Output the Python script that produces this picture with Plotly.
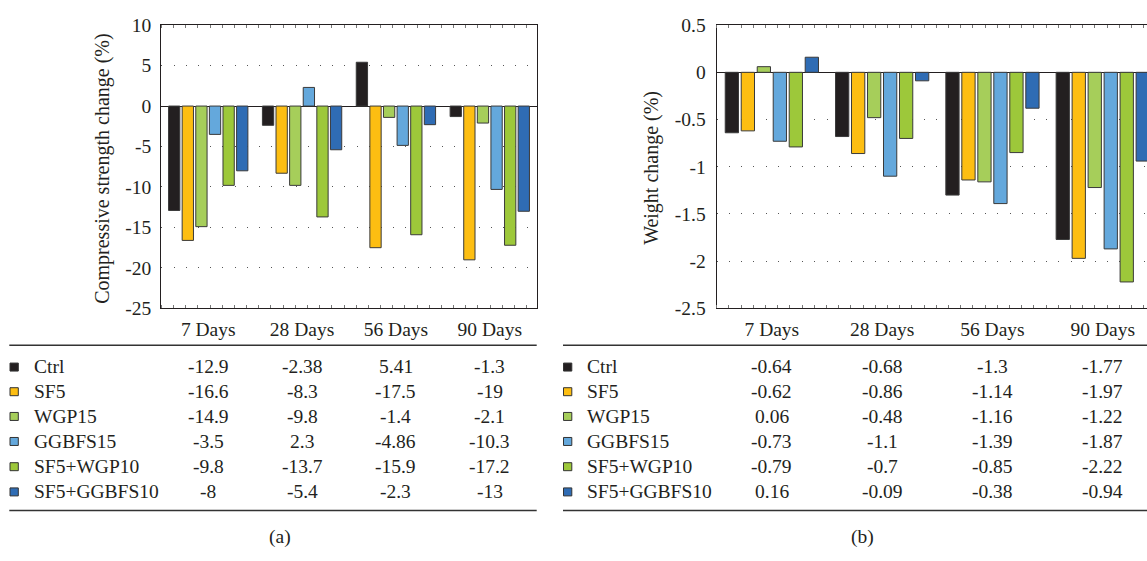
import plotly.graph_objects as go

# ---------------- data ----------------
categories = ["7 Days", "28 Days", "56 Days", "90 Days"]
series_names = ["Ctrl", "SF5", "WGP15", "GGBFS15", "SF5+WGP10", "SF5+GGBFS10"]
series_colors = ["#231F20", "#FDBE12", "#A6CE5A", "#64A8DC", "#9DC83A", "#2F6CB4"]

# (a) compressive strength change (%)
strength_ctrl = [-12.9, -2.38, 5.41, -1.3]
strength_sf5 = [-16.6, -8.3, -17.5, -19]
strength_wgp15 = [-14.9, -9.8, -1.4, -2.1]
strength_ggbfs15 = [-3.5, 2.3, -4.86, -10.3]
strength_sf5_wgp10 = [-9.8, -13.7, -15.9, -17.2]
strength_sf5_ggbfs10 = [-8, -5.4, -2.3, -13]

# (b) weight change (%)
weight_ctrl = [-0.64, -0.68, -1.3, -1.77]
weight_sf5 = [-0.62, -0.86, -1.14, -1.97]
weight_wgp15 = [0.06, -0.48, -1.16, -1.22]
weight_ggbfs15 = [-0.73, -1.1, -1.39, -1.87]
weight_sf5_wgp10 = [-0.79, -0.7, -0.85, -2.22]
weight_sf5_ggbfs10 = [0.16, -0.09, -0.38, -0.94]

strength_ticks = [10, 5, 0, -5, -10, -15, -20, -25]
strength_ticktext = ["10", "5", "0", "-5", "-10", "-15", "-20", "-25"]
weight_ticks = [0.5, 0, -0.5, -1, -1.5, -2, -2.5]
weight_ticktext = ["0.5", "0", "-0.5", "-1", "-1.5", "-2", "-2.5"]

strength_series = [strength_ctrl, strength_sf5, strength_wgp15,
                   strength_ggbfs15, strength_sf5_wgp10, strength_sf5_ggbfs10]
weight_series = [weight_ctrl, weight_sf5, weight_wgp15,
                 weight_ggbfs15, weight_sf5_wgp10, weight_sf5_ggbfs10]

# ---------------- layout helpers ----------------
W, H = 1147, 561
FONT = "Liberation Serif"
TXT = "#231F20"
FS = 19.5


def px(x):
    return x / W


def py(y):
    return 1 - y / H


xs = list(range(len(categories)))

fig = go.Figure()
for name, color, vals in zip(series_names, series_colors, strength_series):
    fig.add_trace(go.Bar(x=xs, y=vals, name=name, marker_color=color,
                         marker_line=dict(color="#3A3A3A", width=1),
                         xaxis="x", yaxis="y", showlegend=False))
for name, color, vals in zip(series_names, series_colors, weight_series):
    fig.add_trace(go.Bar(x=xs, y=vals, name=name, marker_color=color,
                         marker_line=dict(color="#3A3A3A", width=1),
                         xaxis="x2", yaxis="y2", showlegend=False))

ydom = [py(310), py(15.7)]
a_left, a_right = 161.3, 536.7
b_left = 716.7
b_cat = 110.3
b_vis = (W - b_left) / b_cat

common_x = dict(
    tickmode="array", tickvals=xs, ticktext=categories,
    showline=True, linecolor=TXT, linewidth=1.3, mirror="ticks",
    ticks="", showgrid=False, zeroline=False,
    tickfont=dict(family=FONT, size=FS, color=TXT),
    ticklabelstandoff=3,
)
common_y = dict(
    tickmode="array", showline=True, linecolor=TXT, linewidth=1.3,
    ticks="", showgrid=True, gridcolor="#555555", gridwidth=1,
    griddash="1px,11.2px",
    zeroline=True, zerolinecolor=TXT, zerolinewidth=1.3,
    tickfont=dict(family=FONT, size=FS, color=TXT),
)

fig.update_layout(
    width=W, height=H,
    margin=dict(l=0, r=0, t=0, b=0),
    paper_bgcolor="white", plot_bgcolor="white",
    barmode="group", bargap=0.13, bargroupgap=0.17,
    font=dict(family=FONT, size=FS, color=TXT),
    xaxis=dict(domain=[px(a_left), px(a_right)], range=[-0.5, 3.5], anchor="y",
               minor=dict(ticks="inside", ticklen=3, tickcolor="#777777",
                          tick0=-0.5, dtick=12.2 / 94.0),
               **common_x),
    yaxis=dict(domain=ydom, range=[-25, 10], anchor="x", mirror=True,
               tickvals=strength_ticks, ticktext=strength_ticktext,
               ticklabelstandoff=5, **common_y),
    xaxis2=dict(domain=[px(b_left), 1.0], range=[-0.5, -0.5 + b_vis], anchor="y2",
                minor=dict(ticks="inside", ticklen=3, tickcolor="#777777",
                           tick0=-0.5, dtick=12.2 / b_cat),
                **common_x),
    yaxis2=dict(domain=ydom, range=[-2.5, 0.5], anchor="x2", mirror=False,
                tickvals=weight_ticks, ticktext=weight_ticktext,
                ticklabelstandoff=6, **common_y),
)

annotations = []
shapes = []

# axis titles
annotations.append(dict(text="Compressive strength change (%)", xref="paper", yref="paper",
                        x=px(103), y=py(165), textangle=-90, showarrow=False,
                        xanchor="center", yanchor="middle",
                        font=dict(family=FONT, size=20, color=TXT)))
annotations.append(dict(text="Weight change (%)", xref="paper", yref="paper",
                        x=px(652), y=py(164), textangle=-90, showarrow=False,
                        xanchor="center", yanchor="middle",
                        font=dict(family=FONT, size=20, color=TXT)))

# tables
row_y = [370.7, 396.3, 422.0, 448.0, 474.2, 500.4]
tables = [
    dict(xref="x", series=strength_series, line=(9.3, a_right), mark_left=10.0,
         text_left=31.7, label="(a)", label_x=280),
    dict(xref="x2", series=weight_series, line=(563.0, W + 2), mark_left=563.5,
         text_left=585.3, label="(b)", label_x=863),
]
for t in tables:
    for ly in (348.3, 520.0):
        shapes.append(dict(type="line", xref="paper", yref="paper",
                           x0=px(t["line"][0]), x1=px(t["line"][1]),
                           y0=py(ly), y1=py(ly),
                           line=dict(color="#333333", width=1.6)))
    for i, (name, color, vals) in enumerate(zip(series_names, series_colors, t["series"])):
        yc = row_y[i]
        shapes.append(dict(type="rect", xref="paper", yref="paper",
                           x0=px(t["mark_left"]), x1=px(t["mark_left"] + 8.3),
                           y0=py(yc + 4.4), y1=py(yc - 3.9),
                           fillcolor=color, line=dict(color="#333333", width=1)))
        annotations.append(dict(text=name, xref="paper", yref="paper",
                                x=px(t["text_left"]), y=py(yc), xanchor="left",
                                yanchor="middle", showarrow=False,
                                font=dict(family=FONT, size=FS, color=TXT)))
        for j, v in enumerate(vals):
            annotations.append(dict(text=f"{v:g}", xref=t["xref"], yref="paper",
                                    x=xs[j], y=py(yc), xanchor="center",
                                    yanchor="middle", showarrow=False,
                                    font=dict(family=FONT, size=FS, color=TXT)))
    annotations.append(dict(text=t["label"], xref="paper", yref="paper",
                            x=px(t["label_x"]), y=py(548), xanchor="center",
                            yanchor="middle", showarrow=False,
                            font=dict(family=FONT, size=FS, color=TXT)))

fig.update_layout(annotations=annotations, shapes=shapes)
fig.write_html("out.html")
